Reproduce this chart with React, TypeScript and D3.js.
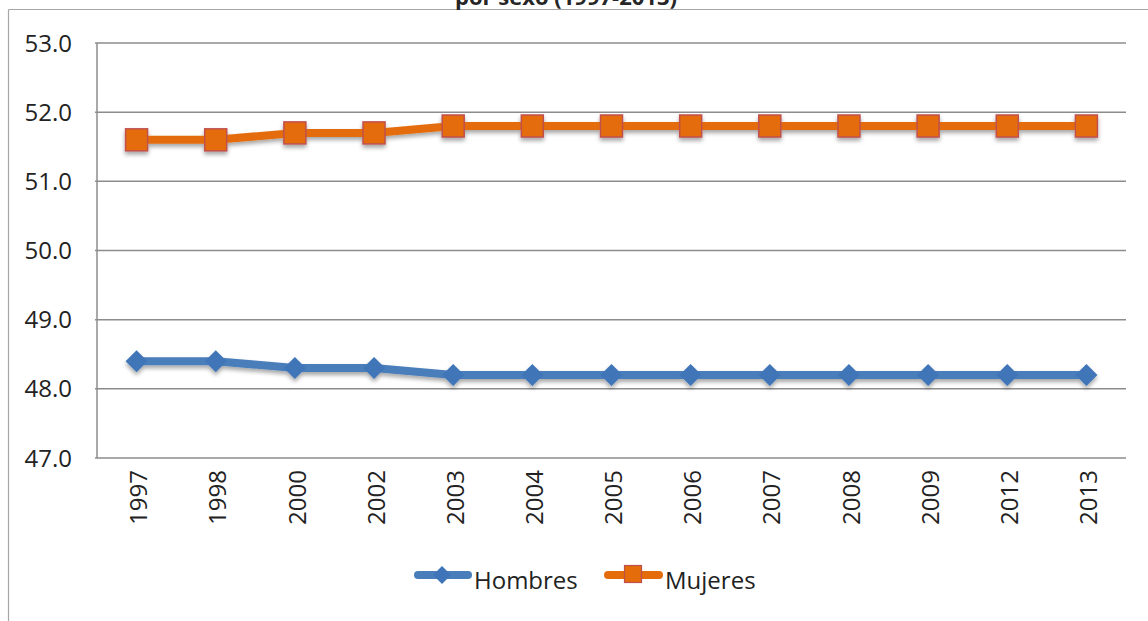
import React from "react";
import * as d3 from "d3";

const categories = ["1997", "1998", "2000", "2002", "2003", "2004", "2005", "2006", "2007", "2008", "2009", "2012", "2013"];
const hombres = [48.4, 48.4, 48.3, 48.3, 48.2, 48.2, 48.2, 48.2, 48.2, 48.2, 48.2, 48.2, 48.2];
const mujeres = [51.6, 51.6, 51.7, 51.7, 51.8, 51.8, 51.8, 51.8, 51.8, 51.8, 51.8, 51.8, 51.8];
const yTicks = [47, 48, 49, 50, 51, 52, 53];
const titleText = "por sexo (1997-2013)";
const seriesNames = ["Hombres", "Mujeres"];

const W = 1148;
const H = 621;
const left = 97;
const right = 1126;
const top = 43;
const bottom = 458;

const BLUE = "#4A7EBB";
const BLUE_M = "#3F74B8";
const ORANGE = "#E46C0A";
const ORANGE_EDGE = "#C0504D";
const FONT = "'Open Sans', sans-serif";

export default function App() {
  const x = d3.scaleBand<string>().domain(categories).range([left, right]);
  const cx = (c: string) => (x(c) as number) + x.bandwidth() / 2;
  const y = d3.scaleLinear().domain([47, 53]).range([bottom, top]);
  const line = d3
    .line<number>()
    .x((_, i) => cx(categories[i]))
    .y((d) => y(d));

  const diamond = (px: number, py: number, r: number) =>
    `M${px},${py - r}L${px + r},${py}L${px},${py + r}L${px - r},${py}Z`;

  return (
    <svg width={W} height={H} style={{ position: "absolute", left: 0, top: 0, background: "#fff" }}>
      <defs>
        <filter id="sh" x="-30%" y="-30%" width="160%" height="180%">
          <feDropShadow dx="0" dy="3" stdDeviation="2.2" floodColor="#000" floodOpacity="0.35" />
        </filter>
      </defs>
      <rect x={0} y={0} width={W} height={H} fill="#fff" />
      {/* frame */}
      <line x1={8.5} x2={W} y1={9.5} y2={9.5} stroke="#a6a6a6" strokeWidth={1.2} />
      <line x1={8.5} x2={8.5} y1={9.5} y2={H} stroke="#a6a6a6" strokeWidth={1.2} />
      {/* title (cut off at top as in the reference) */}
      <text x={566} y={5} textAnchor="middle" fontFamily={FONT} fontWeight="bold" fontSize={22} fill="#262626">
        {titleText}
      </text>
      {/* grid */}
      {yTicks.map((t) => (
        <g key={t}>
          <line x1={left - 2} x2={right} y1={y(t)} y2={y(t)} stroke="#8c8c8c" strokeWidth={1.5} />
          <text x={72} y={y(t)} dy="0.36em" textAnchor="end" fontFamily={FONT} fontSize={24} fill="#222">
            {t.toFixed(1)}
          </text>
        </g>
      ))}
      <line x1={left} x2={left} y1={top} y2={bottom} stroke="#8c8c8c" strokeWidth={1.5} />
      {/* x labels */}
      {categories.map((c) => (
        <text
          key={c}
          transform={`translate(${cx(c) + 2},${470}) rotate(-90)`}
          textAnchor="end"
          dy="0.36em"
          fontFamily={FONT}
          fontSize={24}
          fill="#222"
        >
          {c}
        </text>
      ))}
      {/* series */}
      <g filter="url(#sh)">
        <path d={line(mujeres) || ""} fill="none" stroke={ORANGE} strokeWidth={8} strokeLinejoin="round" />
        {mujeres.map((v, i) => (
          <rect
            key={i}
            x={cx(categories[i]) - 11}
            y={y(v) - 11}
            width={22}
            height={22}
            fill={ORANGE}
            stroke={ORANGE_EDGE}
            strokeWidth={1.5}
          />
        ))}
      </g>
      <g filter="url(#sh)">
        <path d={line(hombres) || ""} fill="none" stroke={BLUE} strokeWidth={8} strokeLinejoin="round" />
        {hombres.map((v, i) => (
          <path key={i} d={diamond(cx(categories[i]), y(v), 11)} fill={BLUE_M} />
        ))}
      </g>
      {/* legend */}
      <g>
        <line x1={418} x2={468} y1={575} y2={575} stroke={BLUE} strokeWidth={8} strokeLinecap="round" />
        <path d={diamond(442, 575, 9)} fill={BLUE_M} />
        <text x={474} y={589} fontFamily={FONT} fontSize={24} fill="#222">
          {seriesNames[0]}
        </text>
        <line x1={608} x2={659} y1={575} y2={575} stroke={ORANGE} strokeWidth={8} strokeLinecap="round" />
        <rect x={624.5} y={565.5} width={17} height={17} fill={ORANGE} stroke={ORANGE_EDGE} strokeWidth={1.2} />
        <text x={665} y={589} fontFamily={FONT} fontSize={24} fill="#222">
          {seriesNames[1]}
        </text>
      </g>
    </svg>
  );
}
